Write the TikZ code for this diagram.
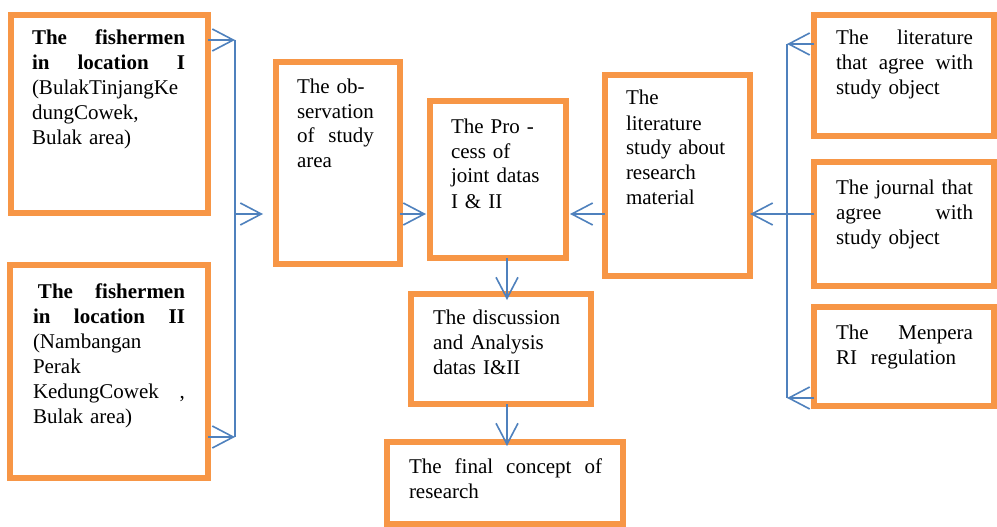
\documentclass[tikz,border=0pt]{standalone}
\usepackage{fontspec}
\setmainfont{Liberation Serif}
\usetikzlibrary{arrows.meta}
\definecolor{boxorange}{HTML}{F79646}
\definecolor{lineblue}{HTML}{4F81BD}
\tikzset{
  box/.style={draw=boxorange, line width=6pt, inner sep=0pt, outer sep=0pt, fill=white},
  txt/.style={inner sep=0pt, outer sep=0pt, anchor=north west, align=left,
    font=\fontsize{21}{25}\selectfont, text=black},
  conn/.style={draw=lineblue, line width=1.6pt},
  arr/.style={conn, -{Straight Barb[length=21pt,width=22pt,line width=1.6pt]}}
}
\begin{document}
\begin{tikzpicture}[x=1pt,y=-1pt]
\useasboundingbox (0,0) rectangle (997,527);
% boxes
\node[box, minimum width=197pt, minimum height=198pt] (l1) at (109.5,114) {};
\node[box, minimum width=198pt, minimum height=213pt] (l2) at (109,371.5) {};
\node[box, minimum width=124pt, minimum height=202pt] (obs) at (338,163) {};
\node[box, minimum width=136pt, minimum height=157pt] (proc) at (498,179.5) {};
\node[box, minimum width=145pt, minimum height=201pt] (lit) at (677.5,175.5) {};
\node[box, minimum width=180pt, minimum height=121pt] (r1) at (904,75.5) {};
\node[box, minimum width=180pt, minimum height=124pt] (r2) at (904,224) {};
\node[box, minimum width=180pt, minimum height=99pt] (r3) at (904,356.5) {};
\node[box, minimum width=180pt, minimum height=110pt] (disc) at (501,349) {};
\node[box, minimum width=236pt, minimum height=82pt] (final) at (505,483) {};
% texts
\node[txt, text width=153pt] (t1) at (32,27.5) {\strut\textbf{The\hfill fishermen}\\ \textbf{in\hfill location\hfill I}\\(BulakTinjangKe\\dungCowek,\\Bulak area)};
\node[txt, text width=152pt] (t2) at (33,280.5) {\strut\textbf{\hspace{5pt}The\hfill fishermen}\\ \textbf{in\hfill location\hfill II}\\(Nambangan\\Perak\\KedungCowek\hfill ,\\Bulak area)};
\node[txt, text width=110pt] (t3) at (297,75.5) {\strut The ob-\\servation\\of\ \ study\\area};
\node[txt, text width=110pt] (t4) at (451,115.5) {\strut The Pro -\\cess of\\joint datas\\I \& II};
\node[txt, text width=120pt] (t5) at (626,87.5) {\strut The\\literature\\study about\\research\\material};
\node[txt, text width=137pt] (t6) at (836,27.5) {\strut The\hfill literature\\that\hfill agree\hfill with\\study object};
\node[txt, text width=137pt] (t7) at (836,176.5) {\strut The\hfill journal\hfill that\\agree\hfill with\\study object};
\node[txt, text width=137pt] (t8) at (836,321.5) {\strut The\hfill Menpera\\RI\ \ regulation};
\node[txt, text width=160pt] (t9) at (433,306.5) {\strut The discussion\\and Analysis\\datas I\&II};
\node[txt, text width=193pt] (t10) at (409,455.5) {\strut The\hfill final\hfill concept\hfill of\\research};
% junction coordinates
\coordinate (jl1) at (235,40);
\coordinate (jl2) at (235,437);
\coordinate (jlm) at (235,214);
\coordinate (jr1) at (787,44);
\coordinate (jr3) at (787,398);
\coordinate (hm) at (0,214);
\coordinate (ax) at (507,0);
% left connectors
\draw[arr] (l1.east |- jl1) -- (jl1);
\draw[arr] (l2.east |- jl2) -- (jl2);
\draw[conn] (jl1) -- (jl2);
\draw[arr] (jlm) -- ([xshift=-13pt]obs.west |- jlm);
\draw[arr] (obs.east |- hm) -- ([xshift=-4pt]proc.west |- hm);
\draw[arr] (lit.west |- hm) -- ([xshift=4pt]proc.east |- hm);
% right connectors
\draw[arr] (r1.west |- jr1) -- (jr1);
\draw[arr] (r3.west |- jr3) -- (jr3);
\draw[conn] (jr1) -- (jr3);
\draw[arr] (r2.west |- hm) -- (lit.east |- hm);
% downward
\draw[arr] (proc.south -| ax) -- ([yshift=-6pt]disc.north -| ax);
\draw[arr] (disc.south -| ax) -- ([yshift=-4pt]final.north -| ax);
\end{tikzpicture}
\end{document}
